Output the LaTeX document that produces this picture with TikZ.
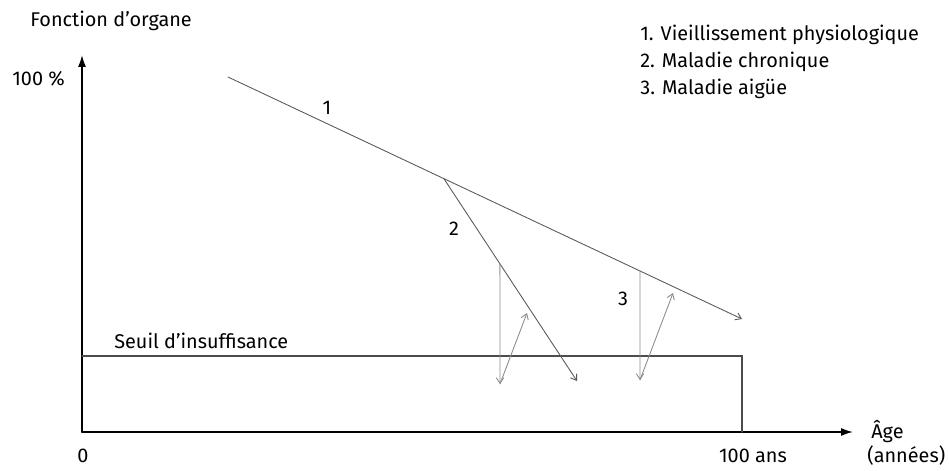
\documentclass[tikz,border=0pt]{standalone}
\usepackage{fontspec}
\setmainfont{Fira Sans}
\usetikzlibrary{calc,arrows.meta}

\begin{document}
\begin{tikzpicture}[
  x=0.02cm, y=-0.02cm,
  >=Latex,
  line cap=round,
  lbl/.style={font=\fontsize{11.3}{13.5}\selectfont, inner sep=0pt},
  axis/.style={-{Latex[length=2.4mm,width=1.6mm]}, line width=0.9pt},
  trend/.style={-{Straight Barb[length=1.1mm,width=1.5mm]}, line width=0.5pt, black!65},
  drop/.style={-{Straight Barb[length=1.1mm,width=1.5mm]}, line width=0.5pt, black!45},
  seuil/.style={line width=0.7pt, black!70}
]
\useasboundingbox (0,0) rectangle (949,470);

%========== axes ==========
\coordinate (O) at (82,432);
\coordinate (ytip) at (82,55);
\coordinate (xtip) at (853,432);
\draw[axis] (O) -- (ytip);
\draw[axis] (O) -- (xtip);
\node[lbl,anchor=west] (yname) at (30,21) {Fonction d’organe};
\node[lbl,anchor=west] (ymax) at (12,79) {100 \%};
\node[lbl] (zero) at (83,456) {0};
\node[lbl] (hundred) at (753,456) {100 ans};
\node[lbl,anchor=west] (xname) at (871,432) {Âge};
\node[lbl,anchor=west] (xunit) at (867,456) {(années)};

%========== threshold ==========
\coordinate (S0) at (82,356);
\coordinate (S1) at (742,356);
\coordinate (S2) at (742,432);
\draw[seuil] (S0) -- (S1) -- (S2);
\node[lbl,anchor=west] (seuillbl) at (114,341) {Seuil d’insuffisance};

%========== (1) ageing ==========
\coordinate (A) at (228,77);
\coordinate (B) at (742,319);
\draw[trend] (A) -- (B);
\node[lbl] (one) at (327,108) {1};

%========== (2) chronic disease ==========
\coordinate (C) at ($(A)!0.420!(B)$);
\coordinate (D) at (577,381);
\draw[trend] (C) -- (D);
\node[lbl] (two) at (454,229) {2};
\coordinate (E) at ($(C)!0.421!(D)$);
\coordinate (F) at (500,384);
\coordinate (G) at (527,313);
\draw[drop] (E) -- (F);
\draw[drop] (F) -- (G);

%========== (3) acute disease ==========
\coordinate (H) at ($(A)!0.8016!(B)$);
\coordinate (I) at (640,380);
\coordinate (J) at (673,293);
\draw[drop] (H) -- (I);
\draw[drop] (I) -- (J);
\node[lbl] (three) at (623,299) {3};

%========== legend ==========
\node[lbl,anchor=west] (leg1) at (640,35) {1. Vieillissement physiologique};
\node[lbl,anchor=west] (leg2) at (640,62) {2. Maladie chronique};
\node[lbl,anchor=west] (leg3) at (640,89) {3. Maladie aigüe};
\end{tikzpicture}
\end{document}
